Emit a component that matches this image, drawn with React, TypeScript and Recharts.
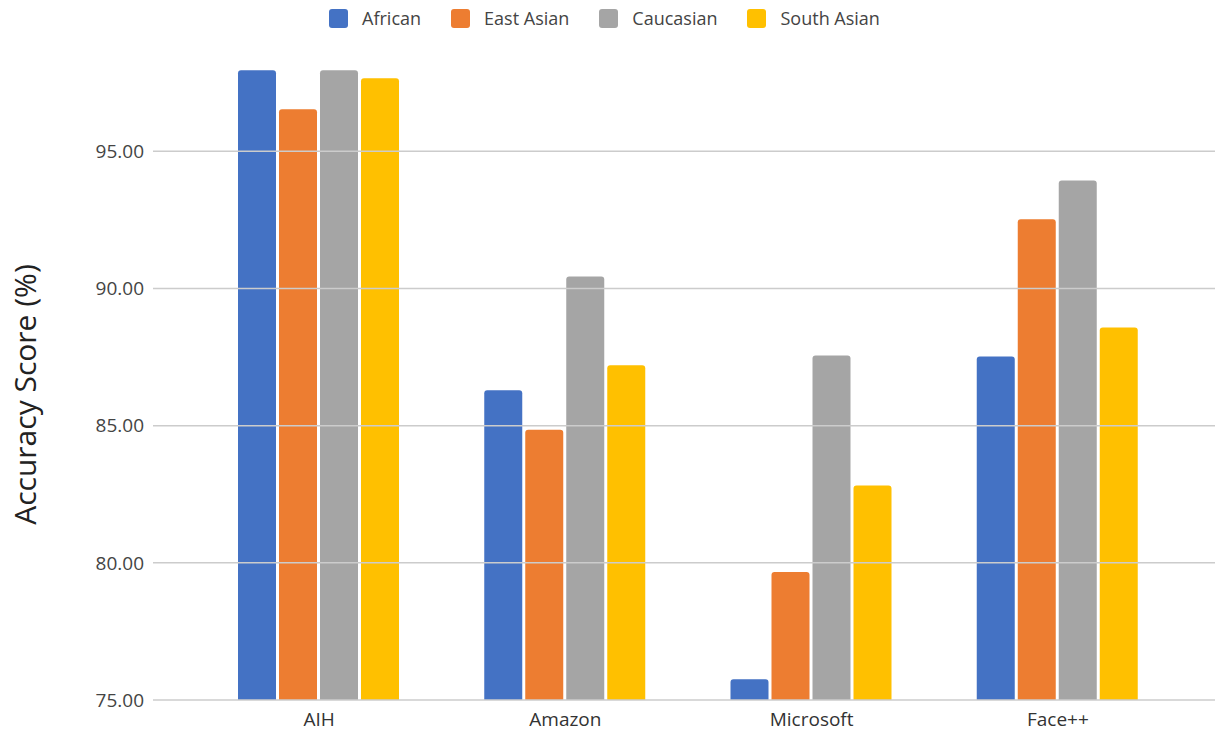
import { BarChart, Bar, XAxis, YAxis, ReferenceLine } from "recharts";

const FONT = "'Segoe UI', 'Open Sans', sans-serif";
const GRID = "#cccccc";
const TEXT = "#444444";

const vendors = ["AIH", "Amazon", "Microsoft", "Face++"];
const african = [97.95, 86.29, 75.76, 87.52];
const eastAsian = [96.53, 84.85, 79.67, 92.52];
const caucasian = [97.95, 90.44, 87.56, 93.94];
const southAsian = [97.66, 87.2, 82.82, 88.58];
const yTicks = [75, 80, 85, 90, 95];

const series = [
  { key: "african", name: "African", color: "#4472c4" },
  { key: "eastAsian", name: "East Asian", color: "#ed7d31" },
  { key: "caucasian", name: "Caucasian", color: "#a5a5a5" },
  { key: "southAsian", name: "South Asian", color: "#ffc000" },
];

const data = vendors.map((v, i) => ({
  vendor: v,
  african: african[i],
  eastAsian: eastAsian[i],
  caucasian: caucasian[i],
  southAsian: southAsian[i],
}));

// legend sits above the plot, outside recharts so it doesn't eat plot height
function TopLegend() {
  return (
    <div
      style={{
        position: "absolute",
        top: 6,
        left: -8,
        width: 1225,
        display: "flex",
        justifyContent: "center",
        gap: 30,
        fontFamily: FONT,
        fontSize: 18,
        color: TEXT,
      }}
    >
      {series.map((s) => (
        <div key={s.key} style={{ display: "flex", alignItems: "center", gap: 14 }}>
          <span
            style={{
              width: 19,
              height: 19,
              borderRadius: 3,
              background: s.color,
              display: "inline-block",
            }}
          />
          <span>{s.name}</span>
        </div>
      ))}
    </div>
  );
}

export default function App() {
  return (
    <div style={{ position: "relative", width: 1225, height: 735, background: "#fff" }}>
      <style>{"body{margin:0}"}</style>
      <TopLegend />
      <BarChart
        width={1225}
        height={735}
        data={data}
        margin={{ top: 69, right: 10, bottom: 0, left: 0 }}
        barCategoryGap={42}
        barGap={3}
      >
        <XAxis
          dataKey="vendor"
          axisLine={false}
          tickLine={false}
          height={35}
          tickMargin={7}
          padding={{ left: 43, right: 34 }}
          tick={{ fontSize: 19, fill: "#333", fontFamily: FONT }}
        />
        <YAxis
          type="number"
          domain={[75, 98]}
          ticks={yTicks}
          width={153}
          axisLine={false}
          tickLine={false}
          tickMargin={3}
          tickFormatter={(v: number) => v.toFixed(2)}
          tick={{ fontSize: 19, fill: TEXT, fontFamily: FONT }}
          label={{
            value: "Accuracy Score (%)",
            angle: -90,
            position: "insideLeft",
            offset: 25,
            dy: 10,
            style: { textAnchor: "middle", fontSize: 30, fill: "#222", fontFamily: FONT },
          }}
        />
        {yTicks.map((t) => (
          <ReferenceLine key={t} y={t} stroke={GRID} strokeWidth={1.5} />
        ))}
        {series.map((s) => (
          <Bar
            key={s.key}
            dataKey={s.key}
            name={s.name}
            fill={s.color}
            radius={[3, 3, 0, 0]}
            isAnimationActive={false}
          />
        ))}
      </BarChart>
    </div>
  );
}
